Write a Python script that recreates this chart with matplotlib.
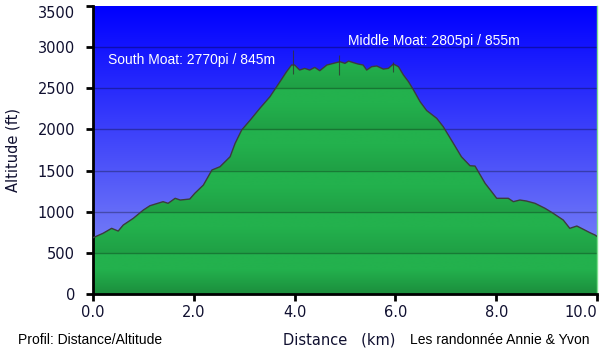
import numpy as np
import matplotlib
matplotlib.use("Agg")
import matplotlib.pyplot as plt
from matplotlib.colors import LinearSegmentedColormap

# profile (km, ft)
dist = [0.0, 0.2, 0.37, 0.5, 0.6, 0.8, 1.0, 1.13, 1.39, 1.49, 1.63, 1.73, 1.92,
        2.02, 2.19, 2.36, 2.52, 2.72, 2.82, 2.95, 3.12, 3.31, 3.51, 3.71, 3.84,
        3.94, 4.0, 4.1, 4.2, 4.3, 4.4, 4.5, 4.64, 4.77, 4.9, 5.0, 5.07, 5.17,
        5.26, 5.36, 5.43, 5.53, 5.63, 5.76, 5.86, 5.96, 6.06, 6.16, 6.26, 6.36,
        6.49, 6.62, 6.82, 6.95, 7.15, 7.31, 7.48, 7.58, 7.68, 7.78, 7.91, 8.01,
        8.24, 8.34, 8.47, 8.6, 8.77, 8.97, 9.13, 9.33, 9.46, 9.6, 9.73, 9.86,
        9.96, 10.0]
alt = [684, 738, 798, 765, 838, 920, 1021, 1073, 1122, 1102, 1163, 1142, 1154,
       1224, 1324, 1507, 1547, 1668, 1831, 1993, 2114, 2256, 2397, 2580, 2701,
       2783, 2783, 2722, 2742, 2722, 2754, 2714, 2783, 2803, 2823, 2803, 2831, 2811,
       2795, 2783, 2722, 2763, 2771, 2734, 2742, 2795, 2763, 2661, 2580, 2479,
       2337, 2230, 2135, 2033, 1831, 1668, 1559, 1555, 1450, 1345, 1243, 1163,
       1163, 1122, 1142, 1130, 1102, 1041, 981, 899, 798, 826, 786, 745,
       717, 700]

# waypoint marks (km, low ft, high ft)
wp_dist = [3.97, 4.89, 5.95]
wp_low = [2670, 2661, 2697]
wp_high = [2970, 2904, 2819]

xticks = [0, 2, 4, 6, 8, 10]
yticks = [0, 500, 1000, 1500, 2000, 2500, 3000, 3500]

fig = plt.figure(figsize=(6, 3.54), dpi=100)
ax = fig.add_axes([0.155, 0.1695, 0.84, 0.8135])
ax.set_xlim(0, 10)
ax.set_ylim(0, 3500)

# sky gradient
sky = LinearSegmentedColormap.from_list("sky", ["#8c96f5", "#0000ff"])
grad = np.linspace(0, 1, 256).reshape(-1, 1)
ax.imshow(grad, cmap=sky, origin="lower", aspect="auto",
          extent=[0, 10, 0, 3500], zorder=0)

# green fill, light bands that darken a bit toward each lower grid line
yy = np.linspace(0, 3500, 700)
band = (yy % 500) / 500.0
green = LinearSegmentedColormap.from_list("grn", ["#1b8a3b", "#23b14d"])
vals = 0.55 + 0.45 * np.clip(band * 1.6, 0, 1)
low = yy < 500
vals[low] = 0.1 + 0.9 * np.clip(yy[low] / 300.0, 0, 1)
img = ax.imshow(vals.reshape(-1, 1), cmap=green, vmin=0, vmax=1, origin="lower",
                aspect="auto", extent=[0, 10, 0, 3500], zorder=1)
poly = ax.fill_between(dist, alt, 0, color="none", lw=0)
img.set_clip_path(poly.get_paths()[0], transform=ax.transData)

ax.plot(dist, alt, color="#3c3c3c", lw=1.0, zorder=3)

for y in yticks[1:-1]:
    ax.axhline(y, color="black", alpha=0.3, lw=1, zorder=2)

ax.vlines(wp_dist, wp_low, wp_high, color="#333333", lw=0.8, alpha=0.8, zorder=4)

ax.text(0.3, 2840, "South Moat: 2770pi / 845m", color="white", fontsize=10,
        family="Liberation Sans", va="center", zorder=5)
ax.text(5.05, 3070, "Middle Moat: 2805pi / 855m", color="white", fontsize=10,
        family="Liberation Sans", va="center", zorder=5)

ax.set_xticks(xticks)
labels = ax.set_xticklabels(["%.1f" % v for v in xticks])
labels[-1].set_horizontalalignment("right")
ax.set_yticks(yticks)
ylabels = ax.set_yticklabels([str(v) for v in yticks])
ylabels[-1].set_verticalalignment("top")
ax.tick_params(axis="both", direction="out", length=5, width=2, color="black",
               labelsize=10.5, labelcolor="#101030")
ax.tick_params(axis="y", pad=8)
ax.tick_params(axis="x", pad=3)

for s in ["left", "bottom"]:
    ax.spines[s].set_linewidth(2)
    ax.spines[s].set_color("black")
ax.spines["top"].set_visible(False)
ax.spines["right"].set_color("#80e090")
ax.spines["right"].set_linewidth(1)

ax.set_ylabel("Altitude (ft)", fontsize=10.5, color="#101030", labelpad=12)
fig.text(0.565, 0.04, "Distance   (km)", fontsize=10.5, color="#101030",
         ha="center", va="center")
fig.text(0.03, 0.04, "Profil: Distance/Altitude", fontsize=10,
         family="Liberation Sans", va="center")
fig.text(0.683, 0.04, "Les randonnée Annie & Yvon", fontsize=10,
         family="Liberation Sans", va="center")

fig.savefig("out.png", dpi=100)
